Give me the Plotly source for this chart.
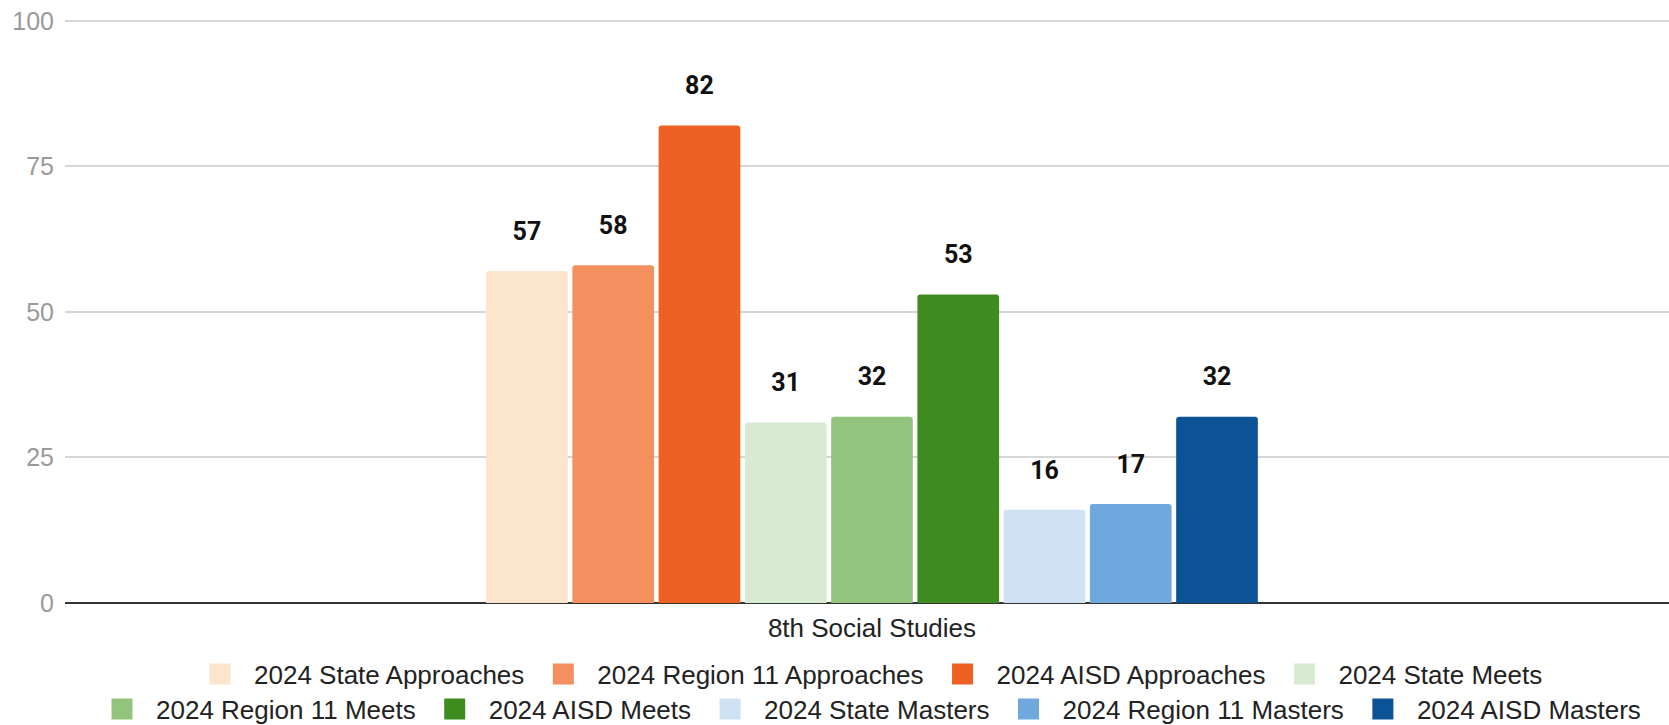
import plotly.graph_objects as go

categories = ["8th Social Studies"]
series_names = [
    "2024 State Approaches",
    "2024 Region 11 Approaches",
    "2024 AISD Approaches",
    "2024 State Meets",
    "2024 Region 11 Meets",
    "2024 AISD Meets",
    "2024 State Masters",
    "2024 Region 11 Masters",
    "2024 AISD Masters",
]
series_values = [57, 58, 82, 31, 32, 53, 16, 17, 32]
series_colors = [
    "#fce5cd", "#f48f5f", "#ee6122",
    "#d9ead3", "#93c47d", "#3e8c1f",
    "#cfe2f3", "#6fa8dc", "#0b5394",
]
y_ticks = [0, 25, 50, 75, 100]

BASE_FONT = "Liberation Sans, Arial, sans-serif"

fig = go.Figure()

for name, val, col in zip(series_names, series_values, series_colors):
    fig.add_trace(go.Bar(
        x=categories, y=[val], name=name,
        marker=dict(color=col, line=dict(width=0)),
        showlegend=False, hoverinfo="skip",
    ))

for name, val in zip(series_names, series_values):
    fig.add_trace(go.Scatter(
        x=categories, y=[val], mode="markers+text",
        text=[str(val)], textposition="top center",
        marker=dict(size=38.4, color="rgba(0,0,0,0)"),
        textfont=dict(family="Roboto", size=25, color="#111111", weight="bold"),
        orientation="v", showlegend=False, hoverinfo="skip", cliponaxis=False,
    ))

for i, (name, col) in enumerate(zip(series_names, series_colors)):
    fig.add_trace(go.Scatter(
        x=[None], y=[None], mode="markers", name=name,
        marker=dict(symbol="square", size=16, color=col, line=dict(color=col, width=5)),
        xaxis="x2", yaxis="y2",
        legend="legend" if i < 4 else "legend2",
        hoverinfo="skip",
    ))

legend_common = dict(
    orientation="h", xref="paper", x=0.5, xanchor="center",
    yref="container", yanchor="middle",
    font=dict(family=BASE_FONT, size=26, color="#222222"),
    itemwidth=58, bgcolor="rgba(0,0,0,0)", borderwidth=0,
    itemclick=False, itemdoubleclick=False,
)

fig.update_layout(
    width=1669, height=725,
    margin=dict(l=65, r=0, t=19, b=122, pad=0),
    barmode="group", bargap=0.516, bargroupgap=0.053, barcornerradius=3,
    scattermode="group", scattergap=0.516,
    plot_bgcolor="white", paper_bgcolor="white",
    font=dict(family=BASE_FONT, size=26, color="#222222"),
    xaxis=dict(
        range=[-0.5031, 0.4969], showgrid=False, zeroline=False, showline=False,
        ticks="", tickfont=dict(family=BASE_FONT, size=26, color="#222222"),
        ticklabelstandoff=7, fixedrange=True,
    ),
    yaxis=dict(
        range=[0, 100.3], tickvals=y_ticks, showgrid=True,
        gridcolor="#d6d6d6", gridwidth=1.5,
        zeroline=True, zerolinecolor="#333333", zerolinewidth=2,
        tickfont=dict(family=BASE_FONT, size=25, color="#9a9a9a"),
        ticklabelstandoff=10, showline=False, ticks="", fixedrange=True,
    ),
    xaxis2=dict(overlaying="x", visible=False),
    yaxis2=dict(overlaying="y", visible=False),
    legend=dict(legend_common, y=1 - 674 / 725),
    legend2=dict(legend_common, y=1 - 709 / 725),
    showlegend=True,
)

fig.write_html(
    "out.html",
    config={"displayModeBar": False, "staticPlot": False},
    post_script="document.body.style.margin='0';document.body.style.overflow='hidden';",
)
